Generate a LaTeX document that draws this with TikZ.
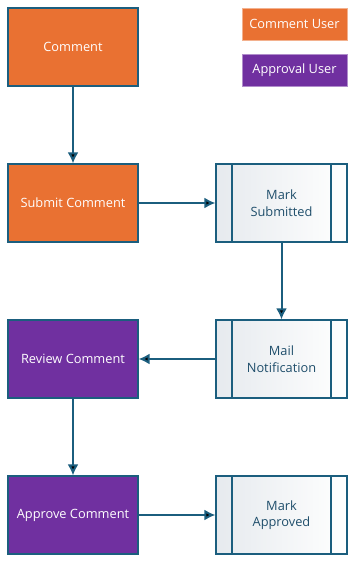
\documentclass[tikz,border=0pt]{standalone}
\usepackage{fontspec}
\setmainfont{Open Sans}
\usepackage{tikz}
\usetikzlibrary{arrows.meta}

\definecolor{edgeblue}{HTML}{1B5E7E}
\definecolor{userorange}{HTML}{E97132}
\definecolor{userpurple}{HTML}{7030A0}
\definecolor{proctext}{HTML}{1F4E6B}
\definecolor{procgray}{HTML}{E6EAEE}

\begin{document}
\begin{tikzpicture}[node distance={156pt},
    every node/.style = {font=\fontsize{12.8}{16.5}\selectfont, align=center},
    task/.style = {draw=edgeblue, line width=1.2pt, minimum width=130pt, minimum height=78pt, text=white, inner sep=2pt},
    comuser/.style = {task, fill=userorange},
    appuser/.style = {task, fill=userpurple},
    subproc/.style = {draw=edgeblue, line width=1.2pt, minimum width=131pt, minimum height=78pt, text=proctext,
        left color=procgray, right color=white,
        path picture={\draw[edgeblue, line width=1.2pt]
            ([xshift=16pt]path picture bounding box.north west) -- ([xshift=16pt]path picture bounding box.south west)
            ([xshift=-16pt]path picture bounding box.north east) -- ([xshift=-16pt]path picture bounding box.south east);}},
    legend/.style = {draw=#1!55!white, fill=#1, text=white, line width=0.8pt, minimum width=105pt, minimum height=32pt},
    flow/.style = {-{Latex[length=11pt,width=11pt]}, draw=edgeblue, line width=2pt}]
            \useasboundingbox (0,0) rectangle (356pt,-563pt);

            \node[comuser] (Comment) at (73pt,-47pt) {Comment};
            \node[comuser] (Submit) [below of=Comment] {Submit Comment};
            \node[appuser] (Review) [below of=Submit] {Review Comment};
            \node[appuser] (Approve) [below of=Review] {Approve Comment};

            \node[subproc] (MarkSub) [right of=Submit, node distance=208.5pt] {Mark\\Submitted};
            \node[subproc] (MailNote) [right of=Review, node distance=208.5pt] {Mail\\Notification};
            \node[subproc] (MarkApp) [right of=Approve, node distance=208.5pt] {Mark\\Approved};

            % legend
            \node[legend=userorange] (ComUser) at (294.5pt,-24pt) {Comment User};
            \node[legend=userpurple] (AppUser) [below of=ComUser, node distance=46pt] {Approval User};

            \path[flow] (Comment) edge (Submit);
            \path[flow] (Submit) edge (MarkSub);
            \path[flow] (MarkSub) edge (MailNote);
            \path[flow] (MailNote) edge (Review);
            \path[flow] (Review) edge (Approve);
            \path[flow] (Approve) edge (MarkApp);
        \end{tikzpicture}
\end{document}
